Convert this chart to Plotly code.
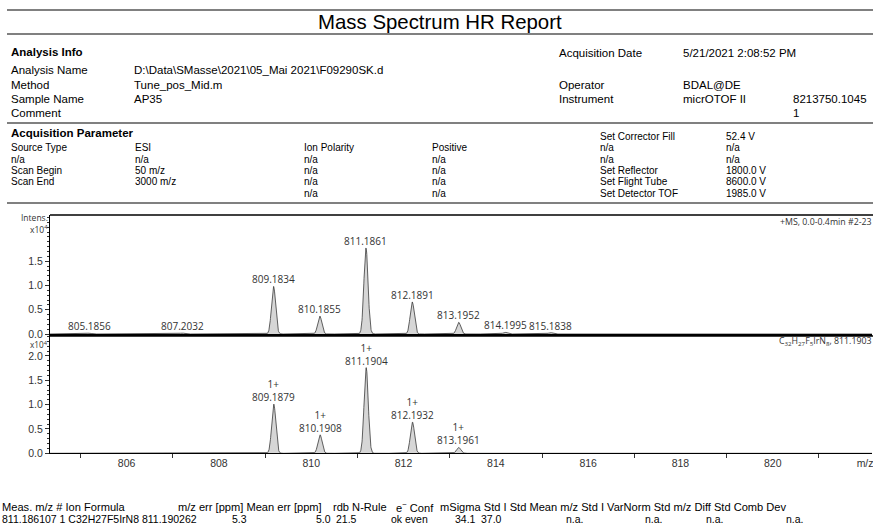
import numpy as np
import plotly.graph_objects as go

W, H = 873, 524

# ---- measured spectrum (+MS) centroids, intensity in counts ----
meas_mz = [805.1856, 807.2032, 808.19, 809.1834, 810.1855, 811.1861, 812.1891, 813.1952, 814.1995, 815.1838]
meas_int = [180, 200, 90, 9800, 3700, 17700, 6600, 2400, 350, 280]
meas_lbl = ["805.1856", "807.2032", "", "809.1834", "810.1855", "811.1861", "812.1891", "813.1952", "814.1995", "815.1838"]

# ---- simulated isotope pattern C32H27F5IrN8 ----
sim_mz = [809.1879, 810.1908, 811.1904, 812.1932, 813.1961, 814.199]
sim_int = [10100, 3800, 17600, 6400, 1200, 130]
sim_lbl = ["809.1879", "810.1908", "811.1904", "812.1932", "813.1961", ""]
sim_charge = ["1+", "1+", "1+", "1+", "1+", ""]

x_range = [804.34, 822.15]
x_labels = [806, 808, 810, 812, 814, 816, 818, 820, 822]
x_text = ["806", "808", "810", "812", "814", "816", "818", "820", "m/z"]

peak_sigma = 0.045  # profile width of each peak (m/z)
scale = 1e4


def profile(mz, inten):
    grid = np.arange(x_range[0], x_range[1], 0.004)
    y = np.zeros_like(grid)
    for m, h in zip(mz, inten):
        y += h * np.exp(-0.5 * ((grid - m) / peak_sigma) ** 2)
    return grid, y / scale


def px(x):
    return x / W


def py(y):
    return 1 - y / H


fig = go.Figure()

gx, gy = profile(meas_mz, meas_int)
fig.add_trace(go.Scatter(x=gx, y=gy, mode="lines", fill="tozeroy",
                         line=dict(color="#3a3a3a", width=0.8), fillcolor="#d6d6d6",
                         xaxis="x", yaxis="y", hoverinfo="skip", showlegend=False))
sx, sy = profile(sim_mz, sim_int)
fig.add_trace(go.Scatter(x=sx, y=sy, mode="lines", fill="tozeroy",
                         line=dict(color="#3a3a3a", width=0.8), fillcolor="#d6d6d6",
                         xaxis="x2", yaxis="y2", hoverinfo="skip", showlegend=False))

xdom = [px(50), px(872)]
top_dom = [py(334), py(215)]
bot_dom = [py(453.3), py(336)]

tickfont = dict(family="Liberation Sans", size=10.5, color="#333333")
yminor = dict(tickmode="linear", tick0=0, dtick=0.1, ticks="outside", ticklen=2, tickcolor="#333333")

fig.update_layout(
    width=W, height=H, margin=dict(l=0, r=0, t=0, b=0, pad=0, autoexpand=False),
    paper_bgcolor="white", plot_bgcolor="white",
    xaxis=dict(domain=xdom, range=x_range, anchor="y", showgrid=False, zeroline=False,
               showline=True, linecolor="black", linewidth=1.5, ticks="", showticklabels=False),
    yaxis=dict(domain=top_dom, range=[0, 2.45], anchor="x", showgrid=False, zeroline=False,
               showline=True, linecolor="black", linewidth=1,
               tickmode="array", tickvals=[0, 0.5, 1.0, 1.5], ticktext=["0.0", "0.5", "1.0", "1.5"],
               ticks="outside", ticklen=4, tickcolor="#333333", tickfont=tickfont, minor=yminor),
    xaxis2=dict(domain=xdom, range=x_range, anchor="y2", showgrid=False, zeroline=False,
                showline=True, linecolor="black", linewidth=1,
                tickmode="array", tickvals=x_labels, ticktext=x_text, ticks="outside", ticklen=0,
                tickfont=tickfont, ticklabeloverflow="allow",
                minor=dict(tickmode="linear", tick0=805, dtick=2, ticks="outside", ticklen=4,
                           tickcolor="#333333")),
    yaxis2=dict(domain=bot_dom, range=[0, 2.41], anchor="x2", showgrid=False, zeroline=False,
                showline=True, linecolor="black", linewidth=1,
                tickmode="array", tickvals=[0, 0.5, 1.0, 1.5, 2.0],
                ticktext=["0.0", "0.5", "1.0", "1.5", "2.0"],
                ticks="outside", ticklen=4, tickcolor="#333333", tickfont=tickfont, minor=yminor),
)

shapes = []
# report rules
for yy in [10, 34, 123, 203]:
    shapes.append(dict(type="line", xref="paper", yref="paper", x0=px(7), x1=px(873),
                       y0=py(yy), y1=py(yy), line=dict(color="#808080", width=2)))
# spectrum panel frames
shapes.append(dict(type="line", xref="paper", yref="paper", x0=px(50), x1=px(873),
                   y0=py(215), y1=py(215), line=dict(color="black", width=1.5)))
shapes.append(dict(type="line", xref="paper", yref="paper", x0=px(50), x1=px(873),
                   y0=py(336), y1=py(336), line=dict(color="black", width=1.5)))
fig.update_layout(shapes=shapes)

ann = []


def text(x, y, s, size=11.5, bold=False, anchor="left", family="Liberation Sans", color="black"):
    ann.append(dict(xref="paper", yref="paper", x=px(x), y=py(y), text=("<b>%s</b>" % s) if bold else s,
                    showarrow=False, xanchor=anchor, yanchor="middle", borderpad=0, borderwidth=0,
                    font=dict(family=family, size=size, color=color)))


text(440, 22, "Mass Spectrum HR Report", size=20.4, anchor="center")

# Analysis info block
text(11, 52, "Analysis Info", bold=True)
info_left = [("Analysis Name", "D:\\Data\\SMasse\\2021\\05_Mai 2021\\F09290SK.d"),
             ("Method", "Tune_pos_Mid.m"), ("Sample Name", "AP35"), ("Comment", "")]
for i, (k, v) in enumerate(info_left):
    yy = [70, 85, 99, 113][i]
    text(11, yy, k)
    if v:
        text(134, yy, v)
text(559, 53, "Acquisition Date")
text(683, 53, "5/21/2021 2:08:52 PM")
text(559, 85, "Operator")
text(683, 85, "BDAL@DE")
text(559, 99, "Instrument")
text(683, 99, "micrOTOF II")
text(793, 99, "8213750.1045")
text(793, 113, "1")

# Acquisition parameters
text(11, 133, "Acquisition Parameter", bold=True)
param_x = [11, 135, 304, 432, 600, 726]
param_rows = [
    (136.5, ["", "", "", "", "Set Corrector Fill", "52.4 V"]),
    (147.8, ["Source Type", "ESI", "Ion Polarity", "Positive", "n/a", "n/a"]),
    (159.1, ["n/a", "n/a", "n/a", "n/a", "n/a", "n/a"]),
    (170.4, ["Scan Begin", "50 m/z", "n/a", "n/a", "Set Reflector", "1800.0 V"]),
    (181.8, ["Scan End", "3000 m/z", "n/a", "n/a", "Set Flight Tube", "8600.0 V"]),
    (193.3, ["", "", "n/a", "n/a", "Set Detector TOF", "1985.0 V"]),
]
for yy, cells in param_rows:
    for xx, c in zip(param_x, cells):
        if c:
            text(xx, yy, c, size=10)

# axis captions
text(48, 218, "Intens.", size=8.5, anchor="right", family="Open Sans", color="#333333")
text(48, 229.5, "x10<sup>4</sup>", size=8.5, anchor="right", family="Open Sans", color="#333333")
text(48, 344.5, "x10<sup>4</sup>", size=8.2, anchor="right", family="Open Sans", color="#333333")
text(872, 222, "+MS, 0.0-0.4min #2-23", size=8.8, anchor="right", family="Open Sans", color="#333333")
text(872, 341, "C<sub>32</sub>H<sub>27</sub>F<sub>5</sub>IrN<sub>8</sub>, 811.1903", size=8.8,
     anchor="right", family="Open Sans", color="#333333")

# peak labels
lblfont = dict(family="Open Sans", size=10, color="#333333")
for m, h, s in zip(meas_mz, meas_int, meas_lbl):
    if s:
        ann.append(dict(xref="x", yref="y", x=m, y=h / scale, text=s, showarrow=False,
                        xanchor="center", yanchor="bottom", yshift=0, borderpad=0, borderwidth=0,
                        font=lblfont))
for m, h, s, c in zip(sim_mz, sim_int, sim_lbl, sim_charge):
    if s:
        ann.append(dict(xref="x2", yref="y2", x=m, y=h / scale, text=c + "<br>" + s, showarrow=False,
                        xanchor="center", yanchor="bottom", yshift=0, borderpad=0, borderwidth=0,
                        font=lblfont))

# result table
hdr = [(2, "Meas. m/z # Ion Formula"), (178, "m/z err [ppm] Mean err [ppm]"), (333, "rdb N-Rule"),
       (396, "e<sup>−</sup> Conf"),
       (440, "mSigma Std I Std Mean m/z Std I VarNorm Std m/z Diff Std Comb Dev")]
for xx, s in hdr:
    text(xx, 507, s, size=11.1)
row_y = 518.5
text(2, row_y, "811.186107 1 C32H27F5IrN8 811.190262", size=10.5)
text(232, row_y, "5.3", size=10.5)
text(331, row_y, "5.0", size=10.5, anchor="right")
text(336, row_y, "21.5", size=10.5)
text(391, row_y, "ok even", size=10.5)
text(476, row_y, "34.1", size=10.5, anchor="right")
text(481, row_y, "37.0", size=10.5)
for xx in [566, 645, 706, 786]:
    text(xx, row_y, "n.a.", size=10.5)

fig.update_layout(annotations=ann)
fig.write_html("out.html")
